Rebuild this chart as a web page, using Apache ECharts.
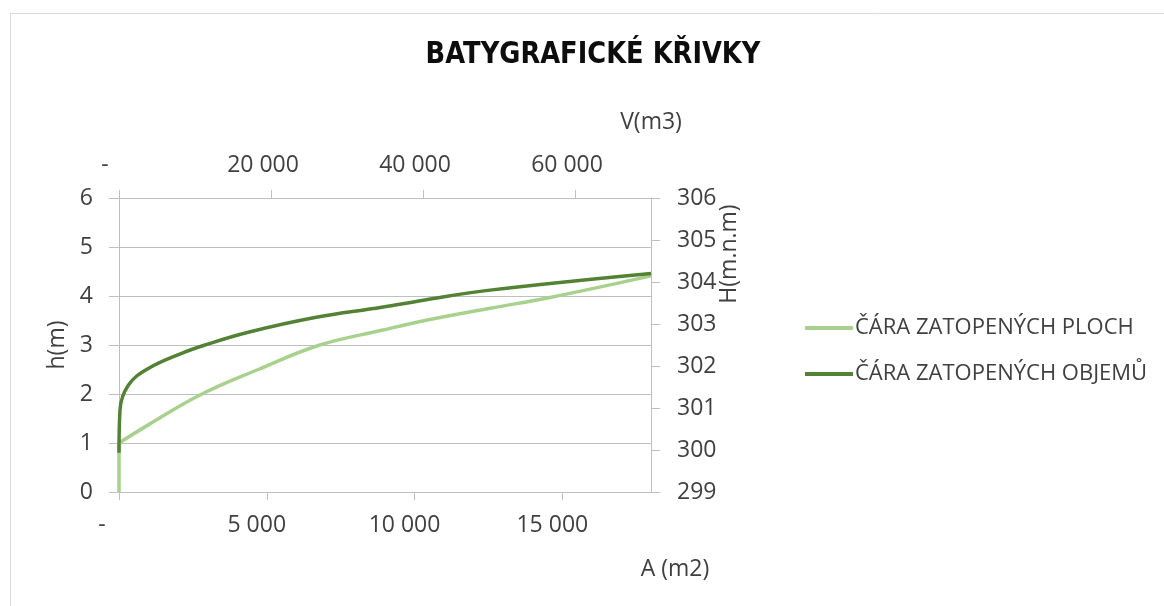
<!DOCTYPE html>
<html>
<head>
<meta charset="utf-8">
<script src="https://cdn.jsdelivr.net/npm/echarts@6/dist/echarts.min.js"></script>
<style>html,body{margin:0;padding:0;background:#fff;}#c{width:1164px;height:606px;}</style>
</head>
<body>
<div id="c"></div>
<script>
// ---- data ----
const titleText = 'BATYGRAFICKÉ KŘIVKY';
const seriesNames = ['ČÁRA ZATOPENÝCH PLOCH', 'ČÁRA ZATOPENÝCH OBJEMŮ'];
// flooded area curve: A (m2) vs h (m)
const areaA = [0, 0, 991, 2741, 4713, 6744, 8888, 10353, 12552, 14582, 18000];
const areaH = [0, 1.0, 1.37, 1.98, 2.50, 2.99, 3.30, 3.50, 3.75, 3.97, 4.41];
// flooded volume curve: V (m3) vs h (m)
const volV = [0, 130, 1224, 3855, 8250, 11316, 17013, 25789, 34566, 40263, 48816, 70000];
const volH = [0.8, 1.67, 2.18, 2.52, 2.83, 3.0, 3.26, 3.56, 3.77, 3.92, 4.12, 4.46];
// axes
const hRange = [0, 6, 1];
const HRange = [299, 306, 1];
const aRange = [0, 18000, 5000];
const vRange = [0, 70000, 20000];
const axisNames = { h: 'h(m)', H: 'H(m.n.m)', A: 'A (m2)', V: 'V(m3)' };

const fmt = v => v === 0 ? '-' : String(v).replace(/\B(?=(\d{3})+(?!\d))/g, ' ');
const txt = '#404040';
const gridCol = '#bfbfbf';
const FONT = "'Open Sans', 'Noto Sans', sans-serif";

// area series: straight stub along the axis, then the smoothed curve
const areaPts = areaA.map((a, i) => [a, areaH[i]]);
const areaData = [areaPts[0], areaPts[1], '-'].concat(areaPts.slice(1));
const volData = volV.map((v, i) => [v, volH[i]]);

const chart = echarts.init(document.getElementById('c'), null, { renderer: 'canvas' });
chart.setOption({
  animation: false,
  backgroundColor: '#fff',
  legend: {
    orient: 'vertical', left: 800, top: 310, itemWidth: 48, itemHeight: 4, itemGap: 20, icon: 'rect',
    textStyle: { fontFamily: FONT, fontSize: 22, color: txt, lineHeight: 26, padding: [0, 0, 0, -3] },
    data: seriesNames
  },
  graphic: [
    { type: 'rect', shape: { x: 10.5, y: 13.5, width: 1200, height: 700 }, style: { fill: 'none', stroke: '#d9d9d9', lineWidth: 1 }, silent: true },
    { type: 'text', x: 593, y: 55, scaleX: 0.83, style: { text: titleText, fontFamily: "'DejaVu Sans', sans-serif", fontWeight: 'bold', fontSize: 31, fill: '#0d0d0d', align: 'center', verticalAlign: 'middle' } },
    { type: 'text', x: 729, y: 254, rotation: Math.PI / 2, style: { text: axisNames.H, fontFamily: FONT, fontSize: 23, fill: txt, align: 'center', verticalAlign: 'middle' } }
  ],
  grid: { left: 119, right: 513, top: 198, bottom: 114, containLabel: false },
  xAxis: [
    {
      type: 'value', position: 'bottom', min: aRange[0], max: aRange[1], interval: aRange[2],
      name: axisNames.A, nameLocation: 'end', nameGap: 24,
      nameTextStyle: { fontFamily: FONT, fontSize: 23, color: txt, align: 'center', verticalAlign: 'top', padding: [66, 0, 0, 0] },
      axisLine: { show: true, onZero: false, lineStyle: { color: gridCol, width: 1 } },
      axisTick: { show: true, length: 8, lineStyle: { color: gridCol } },
      splitLine: { show: false },
      axisLabel: {
        margin: 22, showMaxLabel: false, showMinLabel: true, fontFamily: FONT, fontSize: 23, color: txt,
        formatter: v => v === 0 ? '{d|-}' : '{n|' + fmt(v) + '}',
        rich: { d: { padding: [0, 34, 0, 0], fontFamily: FONT, fontSize: 23, color: txt }, n: { padding: [0, 20, 0, 0], fontFamily: FONT, fontSize: 23, color: txt } }
      }
    },
    {
      type: 'value', position: 'top', min: vRange[0], max: vRange[1], interval: vRange[2],
      name: axisNames.V, nameLocation: 'end', nameGap: 0,
      nameTextStyle: { fontFamily: FONT, fontSize: 23, color: txt, align: 'center', verticalAlign: 'bottom', padding: [0, 0, 64, 0] },
      axisLine: { show: true, onZero: false, lineStyle: { color: gridCol, width: 1 } },
      axisTick: { show: true, length: 8, lineStyle: { color: gridCol } },
      splitLine: { show: false },
      axisLabel: {
        margin: 21, showMaxLabel: false, showMinLabel: true, fontFamily: FONT, fontSize: 23, color: txt,
        formatter: v => v === 0 ? '{d|-}' : '{n|' + fmt(v) + '}',
        rich: { d: { padding: [0, 28, 0, 0], fontFamily: FONT, fontSize: 23, color: txt }, n: { padding: [0, 16, 0, 0], fontFamily: FONT, fontSize: 23, color: txt } }
      }
    }
  ],
  yAxis: [
    {
      type: 'value', position: 'left', min: hRange[0], max: hRange[1], interval: hRange[2],
      name: axisNames.h, nameLocation: 'middle', nameGap: 50,
      nameTextStyle: { fontFamily: FONT, fontSize: 23, color: txt },
      axisLine: { show: true, onZero: false, lineStyle: { color: gridCol, width: 1 } },
      axisTick: { show: true, length: 10, lineStyle: { color: gridCol } },
      splitLine: { show: true, lineStyle: { color: gridCol, width: 1 } },
      axisLabel: { margin: 26, fontFamily: FONT, fontSize: 23, color: txt }
    },
    {
      type: 'value', position: 'right', min: HRange[0], max: HRange[1], interval: HRange[2],
      axisLine: { show: true, onZero: false, lineStyle: { color: gridCol, width: 1 } },
      axisTick: { show: true, length: 9, lineStyle: { color: gridCol } },
      splitLine: { show: false },
      axisLabel: { margin: 26, fontFamily: FONT, fontSize: 23, color: txt }
    }
  ],
  series: [
    {
      name: seriesNames[0], type: 'line', xAxisIndex: 0, yAxisIndex: 0, smooth: 0.4, showSymbol: false, connectNulls: false,
      lineStyle: { width: 3.5, color: '#a9d18e' }, itemStyle: { color: '#a9d18e' },
      data: areaData
    },
    {
      name: seriesNames[1], type: 'line', xAxisIndex: 1, yAxisIndex: 0, smooth: 0.4, showSymbol: false,
      lineStyle: { width: 3.5, color: '#548235' }, itemStyle: { color: '#548235' },
      data: volData
    }
  ]
});
</script>
</body>
</html>
